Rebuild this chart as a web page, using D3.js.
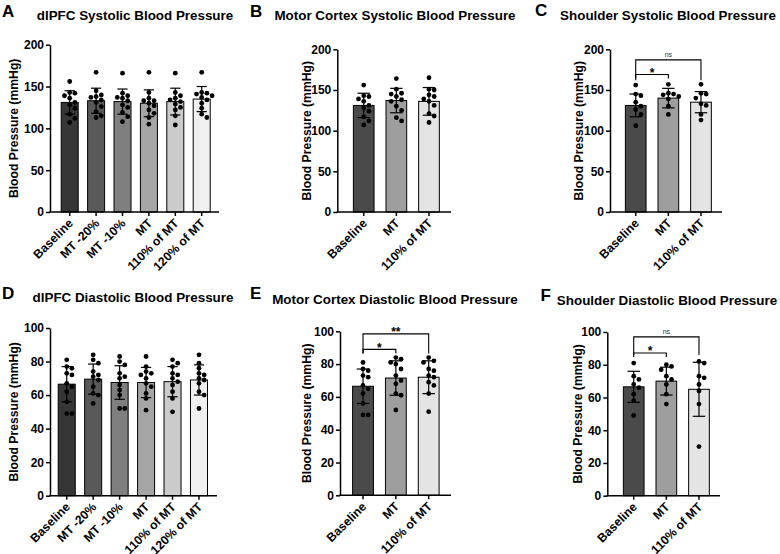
<!DOCTYPE html>
<html>
<head>
<meta charset="utf-8">
<script src="https://cdn.jsdelivr.net/npm/d3@7/dist/d3.min.js"></script>
<style>
html,body{margin:0;padding:0;background:#fff;}
svg{display:block;}
</style>
</head>
<body>
<svg id="chart" width="780" height="554"></svg>
<script>
// ---------- DATA ----------
const cats6 = ["Baseline", "MT -20%", "MT -10%", "MT", "110% of MT", "120% of MT"];
const cats3 = ["Baseline", "MT", "110% of MT"];
const sysTicks = [0, 50, 100, 150, 200];
const diaTicks = [0, 20, 40, 60, 80, 100];

const titles = [
  "dlPFC Systolic Blood Pressure",
  "Motor Cortex Systolic Blood Pressure",
  "Shoulder Systolic Blood Pressure",
  "dlPFC Diastolic Blood Pressure",
  "Motor Cortex Diastolic Blood Pressure",
  "Shoulder Diastolic Blood Pressure"
];
const letters = ["A", "B", "C", "D", "E", "F"];
const yLabel = "Blood Pressure (mmHg)";

// A: dlPFC systolic
const aMean = [131, 133, 132, 130, 132, 135];
const aSD = [14, 15, 15, 16, 16, 15];
const aPts = [
  [156, 143, 142, 139, 136, 131, 128, 124, 117, 112, 107],
  [167, 145, 140, 138, 137, 134, 131, 126, 120, 115, 113],
  [166, 142, 139, 137, 136, 133, 128, 125, 119, 114, 108],
  [167, 143, 136, 133, 133, 130, 127, 122, 118, 113, 105],
  [166, 143, 139, 136, 134, 132, 129, 125, 122, 115, 104],
  [167, 143, 142, 141, 139, 137, 134, 130, 124, 117, 113]
];
// B: motor cortex systolic
const bMean = [131, 137, 136];
const bSD = [15, 15, 17];
const bPts = [
  [156, 143, 142, 139, 136, 131, 128, 124, 117, 112, 107],
  [164, 151, 146, 145, 142, 138, 136, 130, 125, 116, 112],
  [165, 151, 150, 144, 142, 139, 136, 131, 121, 118, 110]
];
// C: shoulder systolic
const cMean = [131, 140, 135];
const cSD = [14, 12, 13];
const cPts = [
  [156, 145, 143, 135, 130, 126, 120, 106],
  [157, 146, 145, 144, 142, 139, 130, 120],
  [157, 146, 145, 140, 133, 131, 120, 113]
];
const cBrackets = [
  {from: 0, to: 2, top: 187, bottom: 162, label: "ns"},
  {from: 0, to: 1, top: 169, bottom: 164, label: "*"}
];
// D: dlPFC diastolic
const dMean = [66.5, 69.5, 67.5, 67.5, 68, 69];
const dSD = [10.5, 9, 10, 9, 9, 9];
const dPts = [
  [81, 77, 76, 73, 72, 67, 65, 62, 56, 49, 49],
  [84, 81, 79, 74, 72, 71, 69, 65, 61, 60, 55],
  [83, 80, 78, 73, 71, 70, 66, 63, 60, 52, 52],
  [83, 77, 74, 73, 72, 70, 67, 65, 61, 58, 51],
  [81, 79, 77, 73, 72, 70, 68, 66, 62, 58, 50],
  [84, 79, 76, 73, 72, 70, 69, 67, 62, 60, 52]
];
// E: motor cortex diastolic
const eMean = [66.5, 71.5, 72];
const eSD = [10.5, 10.5, 10];
const ePts = [
  [81, 77, 76, 73, 72, 67, 65, 62, 56, 49, 49],
  [84, 83, 81, 80, 77, 73, 70, 68, 62, 61, 52],
  [84, 82, 81, 77, 76, 73, 72, 69, 67, 62, 51]
];
const eBrackets = [
  {from: 0, to: 2, top: 98.4, bottom: 86.5, label: "**"},
  {from: 0, to: 1, top: 89, bottom: 86.5, label: "*"}
];
// F: shoulder diastolic
const fMean = [66.5, 70, 65];
const fSD = [9.5, 8.5, 16.5];
const fPts = [
  [81, 73, 71, 68, 66, 62, 58, 49],
  [80, 79, 77, 73, 71, 68, 62, 56],
  [82, 81, 73, 72, 68, 64, 56, 30]
];
const fBrackets = [
  {from: 0, to: 2, top: 97, bottom: 86, label: "ns"},
  {from: 0, to: 1, top: 87.2, bottom: 84.7, label: "*"}
];

// ---------- STYLE / LAYOUT ----------
const FONT = "'Liberation Sans', Arial, Helvetica, sans-serif";
const fill6 = ["#363636", "#595959", "#7f7f7f", "#a5a5a5", "#cbcbcb", "#f0f0f0"];
const fill3 = ["#4a4a4a", "#9e9e9e", "#e4e4e4"];

const panels = [
  {cats: cats6, mean: aMean, sd: aSD, pts: aPts, ticks: sysTicks, max: 200, brackets: [], fills: fill6,
   x0: 50, x1: 219, band: [56.5, 214.9], pi: 0.356, yB: 212, yT: 44.7, tcx: 135, ty: 20, lx: 2, ly: 17, ylx: 14},
  {cats: cats3, mean: bMean, sd: bSD, pts: bPts, ticks: sysTicks, max: 200, brackets: [], fills: fill3,
   x0: 337.3, x1: 451, band: [347.4, 445.3], pi: 0.366, yB: 212, yT: 49.3, tcx: 395, ty: 20, lx: 250, ly: 17, ylx: 306.7},
  {cats: cats3, mean: cMean, sd: cSD, pts: cPts, ticks: sysTicks, max: 200, brackets: cBrackets, fills: fill3,
   x0: 610, x1: 722, band: [619.4, 717.3], pi: 0.366, yB: 212, yT: 49.3, tcx: 668, ty: 20, lx: 535, ly: 16, ylx: 579.3},
  {cats: cats6, mean: dMean, sd: dSD, pts: dPts, ticks: diaTicks, max: 100, brackets: [], fills: fill6,
   x0: 50, x1: 217, band: [53.5, 212.2], pi: 0.356, yB: 495.7, yT: 328, tcx: 133, ty: 302, lx: 2, ly: 299, ylx: 14},
  {cats: cats3, mean: eMean, sd: eSD, pts: ePts, ticks: diaTicks, max: 100, brackets: eBrackets, fills: fill3,
   x0: 340, x1: 451, band: [346.6, 445.1], pi: 0.366, yB: 495.3, yT: 331.3, tcx: 395, ty: 304, lx: 250, ly: 299, ylx: 306.7},
  {cats: cats3, mean: fMean, sd: fSD, pts: fPts, ticks: diaTicks, max: 100, brackets: fBrackets, fills: fill3,
   x0: 607.3, x1: 720, band: [617.4, 715.3], pi: 0.366, yB: 495.7, yT: 332, tcx: 667, ty: 305, lx: 540.5, ly: 301, ylx: 578.3}
];

const svg = d3.select("#chart");
const R = 2.4;

function swarm(vals, y) {
  const placed = [];
  const sp = 2 * R + 0.4;
  const order = [0, 1, -1, 2, -2, 3, -3, 4, -4];
  vals.forEach(v => {
    const py = y(v);
    for (const k of order) {
      const px = k * sp;
      const hit = placed.some(p => (p.x - px) ** 2 + (p.y - py) ** 2 < (2 * R + 0.2) ** 2);
      if (!hit) { placed.push({x: px, y: py, v}); break; }
    }
  });
  return placed;
}

panels.forEach((p, pi) => {
  const g = svg.append("g");
  const x = d3.scaleBand().domain(p.cats).range(p.band).paddingInner(p.pi).paddingOuter(p.pi / 2);
  const y = d3.scaleLinear().domain([0, p.max]).range([p.yB, p.yT]);
  const bw = x.bandwidth();

  // letter and title
  g.append("text").attr("x", p.lx).attr("y", p.ly).text(letters[pi])
    .attr("font-family", FONT).attr("font-weight", "bold").attr("font-size", 17).attr("fill", "#000");
  g.append("text").attr("x", p.tcx).attr("y", p.ty).text(titles[pi]).attr("text-anchor", "middle")
    .attr("font-family", FONT).attr("font-weight", "bold").attr("font-size", 13.4).attr("fill", "#000");

  // y label
  g.append("text").attr("transform", `translate(${p.ylx},${(p.yB + p.yT) / 2}) rotate(-90)`)
    .attr("text-anchor", "middle").attr("dominant-baseline", "central").text(yLabel)
    .attr("font-family", FONT).attr("font-weight", "bold").attr("font-size", 12.2).attr("fill", "#000");

  // bars
  g.selectAll("rect.bar").data(p.cats).enter().append("rect")
    .attr("x", d => x(d)).attr("width", bw)
    .attr("y", (d, i) => y(p.mean[i])).attr("height", (d, i) => y(0) - y(p.mean[i]))
    .attr("fill", (d, i) => p.fills[i]).attr("stroke", "#000").attr("stroke-width", 1);

  // points
  p.cats.forEach((c, i) => {
    const cx = x(c) + bw / 2;
    const sw = swarm(p.pts[i], y);
    g.selectAll(null).data(sw).enter().append("circle")
      .attr("cx", d => cx + d.x).attr("cy", d => d.y).attr("r", R).attr("fill", "#000");
  });

  // error bars
  const cap = bw * 0.3;
  p.cats.forEach((c, i) => {
    const cx = x(c) + bw / 2;
    const hi = y(p.mean[i] + p.sd[i]), lo = y(p.mean[i] - p.sd[i]);
    const eg = g.append("g").attr("stroke", "#000").attr("stroke-width", 1.2);
    eg.append("line").attr("x1", cx).attr("x2", cx).attr("y1", hi).attr("y2", lo);
    eg.append("line").attr("x1", cx - cap).attr("x2", cx + cap).attr("y1", hi).attr("y2", hi);
    eg.append("line").attr("x1", cx - cap).attr("x2", cx + cap).attr("y1", lo).attr("y2", lo);
  });

  // y axis
  const ya = g.append("g").attr("transform", `translate(${p.x0},0)`)
    .call(d3.axisLeft(y).tickValues(p.ticks).tickSize(4).tickSizeOuter(0).tickPadding(2));
  ya.select(".domain").attr("stroke", "#000").attr("stroke-width", 1.5);
  ya.selectAll(".tick line").attr("stroke", "#000").attr("stroke-width", 1.5);
  ya.selectAll(".tick text").attr("font-family", FONT).attr("font-weight", "bold").attr("font-size", 12).attr("fill", "#000");

  // x axis
  const xa = g.append("g").attr("transform", `translate(0,${p.yB})`)
    .call(d3.axisBottom(x).tickSize(4).tickSizeOuter(0));
  xa.select(".domain").remove();
  xa.append("line").attr("x1", p.x0 - 0.75).attr("x2", p.x1).attr("y1", 0).attr("y2", 0)
    .attr("stroke", "#000").attr("stroke-width", 1.5);
  xa.selectAll(".tick line").attr("stroke", "#000").attr("stroke-width", 1.5);
  xa.selectAll(".tick text")
    .attr("font-family", FONT).attr("font-weight", "bold").attr("font-size", 12.2).attr("fill", "#000")
    .attr("text-anchor", "end").attr("x", 0).attr("y", 0).attr("dy", "0.35em")
    .attr("transform", "translate(1,9) rotate(-45)");

  // significance brackets
  p.brackets.forEach(b => {
    const xa0 = x(p.cats[b.from]) + bw / 2, xb0 = x(p.cats[b.to]) + bw / 2;
    const yt = y(b.top), ybm = y(b.bottom);
    g.append("path").attr("d", `M${xa0},${ybm}V${yt}H${xb0}V${ybm}`)
      .attr("fill", "none").attr("stroke", "#000").attr("stroke-width", 1.1);
    const isNs = b.label === "ns";
    g.append("text").attr("x", (xa0 + xb0) / 2).attr("y", isNs ? yt - 3 : yt + 2.5)
      .attr("text-anchor", "middle").text(b.label)
      .attr("font-family", FONT).attr("font-weight", isNs ? "normal" : "bold")
      .attr("font-size", isNs ? 7 : 12).attr("fill", isNs ? "#333" : "#000");
  });
});
</script>
</body>
</html>
